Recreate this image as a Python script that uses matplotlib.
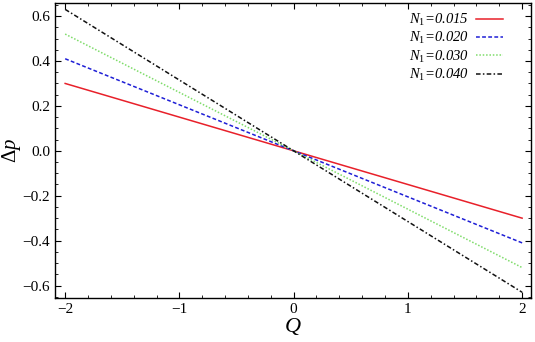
import numpy as np
import matplotlib
matplotlib.use("Agg")
import matplotlib.pyplot as plt
from matplotlib.ticker import MultipleLocator

plt.rcParams['font.family'] = ['Liberation Serif', 'DejaVu Serif']
plt.rcParams['mathtext.fontset'] = 'custom'
plt.rcParams['mathtext.rm'] = 'Liberation Serif'
plt.rcParams['mathtext.it'] = 'Liberation Serif:italic'

# values: Δp at Q=-2 and Q=2
Q = [-2, 2]
labels = ["0.015", "0.020", "0.030", "0.040"]
dp_015 = [0.30, -0.30]
dp_020 = [0.41, -0.41]
dp_030 = [0.52, -0.52]
dp_040 = [0.63, -0.63]

colors = ["#e8202a", "#1f1fd6", "#7fdc6a", "#111111"]
styles = ["-", (0, (2.5, 1.5)), (0, (1, 1.2)), (0, (3, 1.5, 1, 1.5))]

fig = plt.figure(figsize=(5.35, 3.42), dpi=100)
ax = fig.add_axes([0.103, 0.129, 0.890, 0.862])

for dp, lab, c, ls in zip([dp_015, dp_020, dp_030, dp_040], labels, colors, styles):
    ax.plot(Q, dp, color=c, linestyle=ls, linewidth=1.1,
            label=r"$N_{1}$=" + lab)

ax.set_xlim(-2.088, 2.08)
ax.set_ylim(-0.655, 0.658)
ax.xaxis.set_minor_locator(MultipleLocator(0.2))
ax.yaxis.set_minor_locator(MultipleLocator(0.05))
ax.set_xticks([-2, -1, 0, 1, 2])
ax.set_xticklabels(["\u22122", "\u22121", "0", "1", "2"])
yt = [-0.6, -0.4, -0.2, 0.0, 0.2, 0.4, 0.6]
ax.set_yticks(yt)
ax.set_yticklabels([("%.1f" % v).replace("-", "\u2212") for v in yt])
ax.tick_params(which='both', direction='in', top=True, right=True, labelsize=11)
ax.tick_params(which='major', length=4, width=0.8)
ax.tick_params(which='minor', length=2, width=0.6)
for s in ax.spines.values():
    s.set_linewidth(1.0)

ax.set_xlabel("$Q$", fontsize=16, labelpad=0)
ax.set_ylabel("Δ$p$", fontsize=15)
ax.yaxis.set_label_coords(-0.068, 0.5)

leg = ax.legend(loc='upper right', frameon=False, fontsize=10.5, handlelength=1.9,
                handletextpad=0.5, labelspacing=0.15, borderaxespad=0.2,
                markerfirst=False, bbox_to_anchor=(0.96, 1.0))
for t in leg.get_texts():
    t.set_fontstyle('italic')

fig.savefig("out.png", dpi=100)
